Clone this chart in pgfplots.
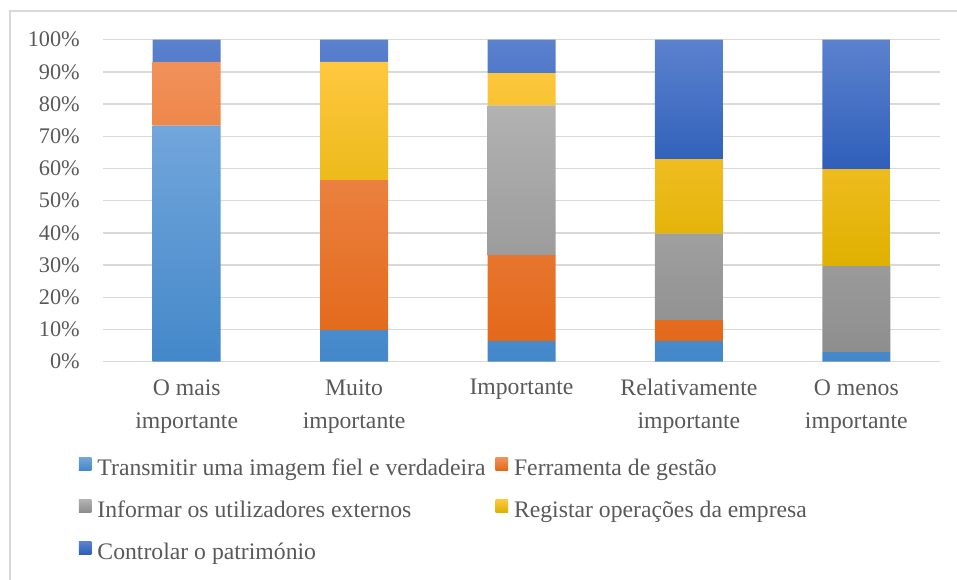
\documentclass[border=0pt]{standalone}
\usepackage{pgfplots}
\pgfplotsset{compat=1.18}
\usepackage{fontspec}
\setmainfont{Liberation Serif}
\definecolor{textgray}{HTML}{595959}
\definecolor{gridgray}{HTML}{D9D9D9}
\definecolor{frame}{HTML}{D9D9D9}
\definecolor{bAt}{HTML}{72A6DC}\definecolor{bAm}{HTML}{5B9BD5}\definecolor{bAb}{HTML}{4488C9}
\definecolor{oRt}{HTML}{F1915A}\definecolor{oRm}{HTML}{F47C2C}\definecolor{oRb}{HTML}{E3691A}
\definecolor{gYt}{HTML}{B2B2B2}\definecolor{gYm}{HTML}{A5A5A5}\definecolor{gYb}{HTML}{8E8E8E}
\definecolor{yEt}{HTML}{FFC840}\definecolor{yEm}{HTML}{FFC000}\definecolor{yEb}{HTML}{E0B000}
\definecolor{dBt}{HTML}{5C82CE}\definecolor{dBm}{HTML}{4472C4}\definecolor{dBb}{HTML}{2F5FBA}
\begin{document}
\begin{tikzpicture}
\useasboundingbox (0pt,0pt) rectangle (957pt,-580pt);
\draw[frame, line width=1.2pt] (10pt,-585pt) -- (10pt,-11pt) -- (965pt,-11pt);
\begin{axis}[
  scale only axis,
  width=837pt, height=322pt,
  at={(103pt,-361.7pt)}, anchor=south west,
  ybar stacked, bar width=68pt,
  xmin=-0.5, xmax=4.5, ymin=0, ymax=100,
  ytick={0,10,...,100},
  yticklabel={\pgfmathprintnumber{\tick}\%},
  /pgf/number format/assume math mode=true,
  xtick={0,1,2,3,4},
  xticklabels={{O mais\\importante},{Muito\\importante},{Importante},{Relativamente\\importante},{O menos\\importante}},
  ymajorgrids, grid style={gridgray, line width=1.3pt},
  axis line style={draw=none},
  major tick length=0pt,
  yticklabel style={font=\fontsize{22.3pt}{26pt}\selectfont, text=textgray, inner sep=0pt, xshift=-23pt},
  xticklabel style={font=\fontsize{23.7pt}{33pt}\selectfont, text=textgray, inner sep=0pt, align=center, yshift=-17.5pt},
  legend columns=2,
  legend cell align=left,
  legend image code/.code={\fill[#1] (0pt,-0.5pt) rectangle (12.5pt,12pt);},
  legend style={at={(-0.0287,-0.2975)}, anchor=north west, draw=none, fill=none,
    inner sep=0pt, outer sep=0pt, font=\fontsize{23.7pt}{28pt}\selectfont, text=textgray,
    row sep=19.5pt,
    nodes={inner sep=0pt, text height=16pt, text depth=5pt},
    /tikz/every odd column/.append style={column sep=6pt},
    /tikz/every even column/.append style={column sep=10pt}},
]
\addplot[draw=none, top color=bAt, middle color=bAm, bottom color=bAb] coordinates {(0,73.3) (1,9.8) (2,6.4) (3,6.4) (4,3.0)};
\addplot[draw=none, top color=oRt, middle color=oRm, bottom color=oRb] coordinates {(0,19.8) (1,46.6) (2,26.7) (3,6.5) (4,0)};
\addplot[draw=none, top color=gYt, middle color=gYm, bottom color=gYb] coordinates {(0,0) (1,0) (2,46.5) (3,26.9) (4,26.7)};
\addplot[draw=none, top color=yEt, middle color=yEm, bottom color=yEb] coordinates {(0,0) (1,36.7) (2,10.0) (3,23.1) (4,30.1)};
\addplot[draw=none, top color=dBt, middle color=dBm, bottom color=dBb] coordinates {(0,6.9) (1,6.9) (2,10.4) (3,37.1) (4,40.2)};
\legend{Transmitir uma imagem fiel e verdadeira, Ferramenta de gestão, Informar os utilizadores externos, Registar operações da empresa, Controlar o património}
\end{axis}
\end{tikzpicture}
\end{document}
